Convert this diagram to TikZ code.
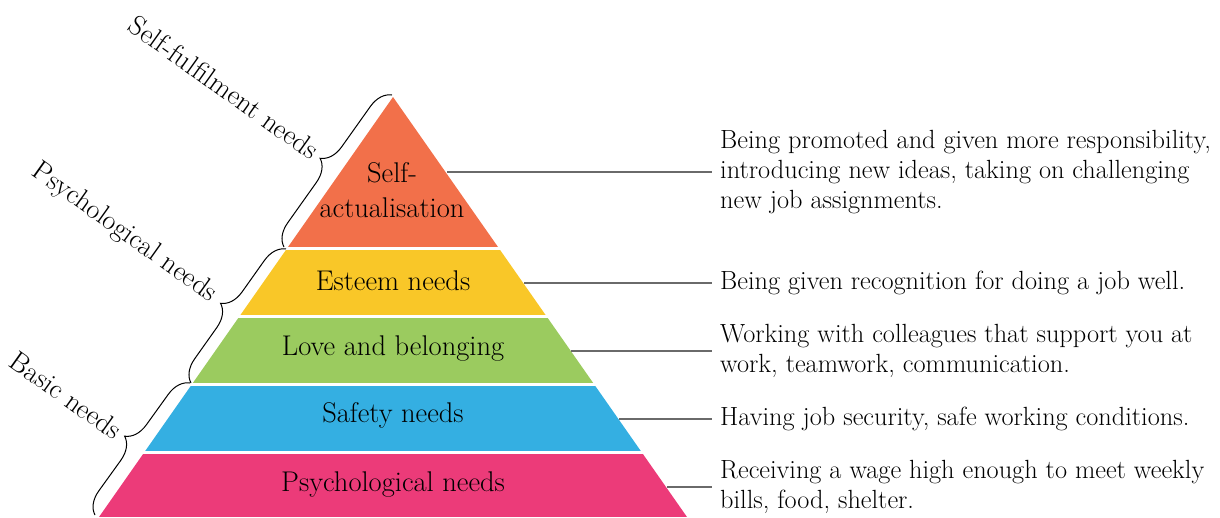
\documentclass[tikz,border=0pt]{standalone}
\usetikzlibrary{decorations.pathreplacing}
\definecolor{tOrange}{HTML}{F2704A}
\definecolor{tYellow}{HTML}{F9C728}
\definecolor{tGreen}{HTML}{9BCB5F}
\definecolor{tBlue}{HTML}{34AFE2}
\definecolor{tPink}{HTML}{EC3B79}
\definecolor{leadgray}{HTML}{6A6A6A}
\tikzset{
  tierlabel/.style={inner sep=0pt, align=center, font=\fontsize{28.5}{35}\selectfont},
  desc/.style={anchor=west, inner xsep=8pt, inner ysep=0pt, align=left, font=\fontsize{26.3}{30}\selectfont},
  leader/.style={draw=leadgray, line width=1.3pt},
  bracestyle/.style={draw=black, line width=1pt, decorate, decoration={brace, amplitude=22pt, aspect=0.5}},
  sidelabel/.style={inner sep=0pt, anchor=east, rotate=-35.5, font=\fontsize{28}{32}\selectfont}
}
\begin{document}
\begin{tikzpicture}[x=1pt,y=1pt]
\useasboundingbox (0,0) rectangle (1220,517);
% pyramid tiers
\begin{scope}
  \clip (393,420) -- (99,0) -- (687,0) -- cycle;
  \fill[tOrange] (0,270) rectangle (1220,420);
  \fill[tYellow] (0,202) rectangle (1220,267);
  \fill[tGreen]  (0,134) rectangle (1220,199);
  \fill[tBlue]   (0,66)  rectangle (1220,131);
  \fill[tPink]   (0,0)   rectangle (1220,63);
\end{scope}
% tier labels
\node[tierlabel] (t1) at (392,327) {Self-\\actualisation};
\node[tierlabel] (t2) at (393,236) {Esteem needs};
\node[tierlabel] (t3) at (393,168) {Love and belonging};
\node[tierlabel] (t4) at (393,102) {Safety needs};
\node[tierlabel] (t5) at (393,32)  {Psychological needs};
% descriptions
\node[desc] (d1) at (712,345) {Being promoted and given more responsibility,\\introducing new ideas, taking on challenging\\new job assignments.};
\node[desc] (d2) at (712,234) {Being given recognition for doing a job well.};
\node[desc] (d3) at (712,166) {Working with colleagues that support you at\\work, teamwork, communication.};
\node[desc] (d4) at (712,98)  {Having job security, safe working conditions.};
\node[desc] (d5) at (712,30)  {Receiving a wage high enough to meet weekly\\bills, food, shelter.};
% leader start points on the pyramid edge
\coordinate (e1) at (447,345);
\coordinate (e2) at (524,234);
\coordinate (e3) at (571,166);
\coordinate (e4) at (619,98);
\coordinate (e5) at (667,30);
\draw[leader] (e1) -- (d1.west);
\draw[leader] (e2) -- (d2.west);
\draw[leader] (e3) -- (d3.west);
\draw[leader] (e4) -- (d4.west);
\draw[leader] (e5) -- (d5.west);
% braces
\coordinate (b1a) at (284,270);
\coordinate (b1b) at (392,422);
\coordinate (b2a) at (191,134);
\coordinate (b2b) at (286,268);
\coordinate (b3a) at (95,2);
\coordinate (b3b) at (190,134);
\draw[bracestyle] (b1a) -- (b1b);
\draw[bracestyle] (b2a) -- (b2b);
\draw[bracestyle] (b3a) -- (b3b);
% side labels
\node[sidelabel] (s1) at (316,364) {Self-fulfilment needs};
\node[sidelabel] (s2) at (214,220) {Psychological needs};
\node[sidelabel] (s3) at (119,84)  {Basic needs};
\end{tikzpicture}
\end{document}
